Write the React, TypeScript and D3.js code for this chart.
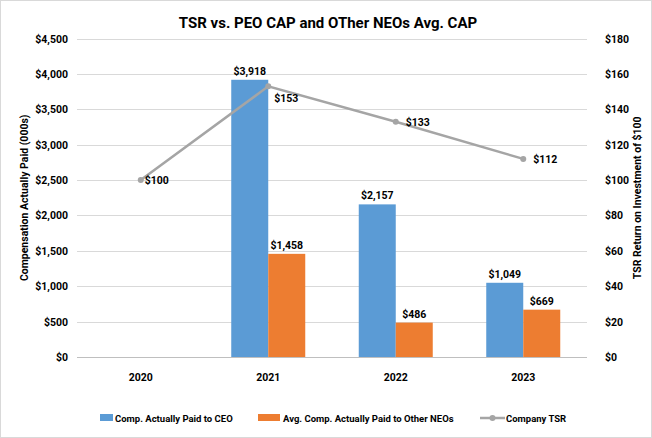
import React, { useEffect, useRef } from 'react'
import * as d3 from 'd3'

const years = ['2020', '2021', '2022', '2023']
const ceoCap = [null, 3918, 2157, 1049]
const neoCap = [null, 1458, 486, 669]
const tsr = [100, 153, 133, 112]
const leftTicks = [0, 500, 1000, 1500, 2000, 2500, 3000, 3500, 4000, 4500]
const rightTicks = [0, 20, 40, 60, 80, 100, 120, 140, 160, 180]

const W = 652
const H = 438
const FONT = 'Roboto, "Liberation Sans", sans-serif'

const App: React.FC = () => {
    const svgRef = useRef<SVGSVGElement | null>(null)

    useEffect(() => {
        const svg = d3.select(svgRef.current)
        svg.selectAll('*').remove()

        const left = 77
        const right = 587
        const top = 38.6
        const bottom = 357

        const x = d3.scaleBand().domain(years).range([left, right])
        const yL = d3.scaleLinear().domain([0, 4500]).range([bottom, top])
        const yR = d3.scaleLinear().domain([0, 180]).range([bottom, top])
        const fmt = d3.format('$,')

        svg.append('rect')
            .attr('x', 0.5).attr('y', 0.5)
            .attr('width', W - 1).attr('height', H - 1)
            .attr('fill', '#fff').attr('stroke', '#d9d9d9')

        // title
        svg.append('text')
            .attr('x', 328).attr('y', 28)
            .attr('text-anchor', 'middle')
            .style('font', `bold 15px ${FONT}`)
            .attr('fill', '#000')
            .text('TSR vs. PEO CAP and OTher NEOs Avg. CAP')

        // gridlines
        svg.append('g').selectAll('line')
            .data(leftTicks)
            .join('line')
            .attr('x1', left).attr('x2', right)
            .attr('y1', d => Math.round(yL(d)) + 0.5).attr('y2', d => Math.round(yL(d)) + 0.5)
            .attr('stroke', d => d === 0 ? '#bfbfbf' : '#d9d9d9')

        // left axis labels
        svg.append('g').selectAll('text')
            .data(leftTicks)
            .join('text')
            .attr('x', 68).attr('y', d => yL(d) + 4)
            .attr('text-anchor', 'end')
            .style('font', `bold 10.5px ${FONT}`)
            .text(d => fmt(d))

        // right axis labels
        svg.append('g').selectAll('text')
            .data(rightTicks)
            .join('text')
            .attr('x', 605).attr('y', d => yR(d) + 4)
            .attr('text-anchor', 'start')
            .style('font', `bold 10.5px ${FONT}`)
            .text(d => fmt(d))

        // axis titles
        svg.append('text')
            .attr('transform', `translate(28, ${(top + bottom) / 2}) rotate(-90)`)
            .attr('text-anchor', 'middle')
            .style('font', `bold 10.5px ${FONT}`)
            .text('Compensation Actually Paid (000s)')
        svg.append('text')
            .attr('transform', `translate(641, ${(top + bottom) / 2}) rotate(-90)`)
            .attr('text-anchor', 'middle')
            .style('font', `bold 10.5px ${FONT}`)
            .text('TSR Return on Investment of $100')

        // category labels
        svg.append('g').selectAll('text')
            .data(years)
            .join('text')
            .attr('x', d => x(d)! + x.bandwidth() / 2).attr('y', 381)
            .attr('text-anchor', 'middle')
            .style('font', `bold 10.5px ${FONT}`)
            .text(d => d)

        const barW = 37
        const series = [
            { vals: ceoCap, color: '#5b9bd5', off: -barW },
            { vals: neoCap, color: '#ed7d31', off: 0 },
        ]
        series.forEach(s => {
            const data = years.map((yr, i) => ({ yr, v: s.vals[i] })).filter(d => d.v != null) as { yr: string, v: number }[]
            svg.append('g').selectAll('rect')
                .data(data)
                .join('rect')
                .attr('x', d => x(d.yr)! + x.bandwidth() / 2 + s.off)
                .attr('y', d => yL(d.v))
                .attr('width', barW)
                .attr('height', d => bottom - yL(d.v))
                .attr('fill', s.color)
            svg.append('g').selectAll('text')
                .data(data)
                .join('text')
                .attr('x', d => x(d.yr)! + x.bandwidth() / 2 + s.off + barW / 2)
                .attr('y', d => yL(d.v) - 5)
                .attr('text-anchor', 'middle')
                .style('font', `bold 10.5px ${FONT}`)
                .text(d => fmt(d.v))
        })

        // TSR line
        const line = d3.line<number>()
            .x((_, i) => x(years[i])! + x.bandwidth() / 2)
            .y(d => yR(d))
        svg.append('path')
            .datum(tsr)
            .attr('d', line)
            .attr('fill', 'none')
            .attr('stroke', '#a5a5a5')
            .attr('stroke-width', 2.5)
        svg.append('g').selectAll('circle')
            .data(tsr)
            .join('circle')
            .attr('cx', (_, i) => x(years[i])! + x.bandwidth() / 2)
            .attr('cy', d => yR(d))
            .attr('r', 3)
            .attr('fill', '#a5a5a5')
        svg.append('g').selectAll('text')
            .data(tsr)
            .join('text')
            .attr('x', (_, i) => x(years[i])! + x.bandwidth() / 2 + (i === 0 ? 4 : i === 1 ? 6 : 10))
            .attr('y', (d, i) => yR(d) + (i === 1 ? 16 : 4))
            .style('font', `bold 10.5px ${FONT}`)
            .text(d => fmt(d))

        // legend
        const ly = 418
        const lg = svg.append('g')
        lg.append('rect').attr('x', 100).attr('y', ly - 4).attr('width', 13).attr('height', 7).attr('fill', '#5b9bd5')
        lg.append('text').attr('x', 115).attr('y', ly + 3.5).style('font', `bold 9.5px ${FONT}`).text('Comp. Actually Paid to CEO')
        lg.append('rect').attr('x', 258).attr('y', ly - 4).attr('width', 22).attr('height', 7).attr('fill', '#ed7d31')
        lg.append('text').attr('x', 283).attr('y', ly + 3.5).style('font', `bold 9.5px ${FONT}`).text('Avg. Comp. Actually Paid to Other NEOs')
        lg.append('line').attr('x1', 480).attr('x2', 505).attr('y1', ly).attr('y2', ly).attr('stroke', '#a5a5a5').attr('stroke-width', 2.5)
        lg.append('circle').attr('cx', 492.5).attr('cy', ly).attr('r', 3).attr('fill', '#a5a5a5')
        lg.append('text').attr('x', 506).attr('y', ly + 3.5).style('font', `bold 9.5px ${FONT}`).text('Company TSR')
    }, [])

    return (
        <svg ref={svgRef} width={W} height={H} style={{ position: 'absolute', left: 0, top: 0 }} />
    )
}

export default App
